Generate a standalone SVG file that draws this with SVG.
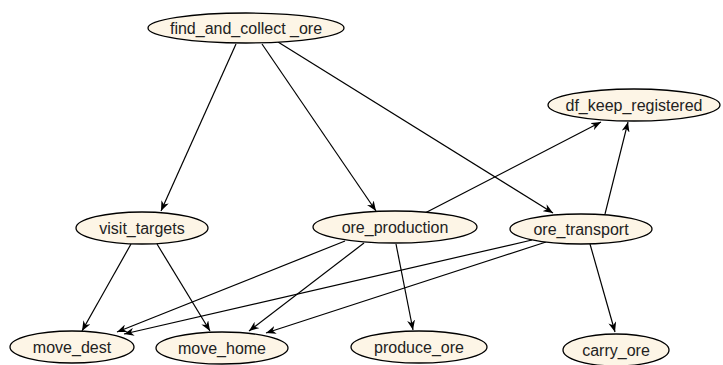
<svg xmlns="http://www.w3.org/2000/svg" width="723" height="365" viewBox="0 0 723 365">
  <defs>
    <marker id="arrow" viewBox="0 0 10 8" refX="10" refY="4" markerWidth="10" markerHeight="8" markerUnits="userSpaceOnUse" orient="auto">
      <path d="M0,0 L10,4 L0,8 L3,4 Z" fill="#000"/>
    </marker>
  </defs>
  <style>
    .node ellipse { fill: #fdf5e6; stroke: #000; stroke-width: 1.3; }
    .node text { font-family: "Liberation Sans", Arial, sans-serif; font-size: 16px; fill: #222; text-anchor: middle; dominant-baseline: central; }
    .edges line { stroke: #000; stroke-width: 1.2; marker-end: url(#arrow); }
  </style>
  <rect width="723" height="365" fill="#fff"/>

  <g class="edges">
    <line x1="236" y1="44" x2="161" y2="211"/>
    <line x1="262" y1="44" x2="376" y2="211"/>
    <line x1="278" y1="42" x2="553" y2="213"/>
    <line x1="425" y1="213" x2="601" y2="122"/>
    <line x1="605" y1="214" x2="628" y2="122"/>
    <line x1="131" y1="244" x2="82" y2="331"/>
    <line x1="157" y1="244" x2="210" y2="331"/>
    <line x1="345" y1="241" x2="117" y2="332"/>
    <line x1="364" y1="243" x2="249" y2="331"/>
    <line x1="396" y1="244" x2="413" y2="330"/>
    <line x1="532" y1="240" x2="124" y2="334"/>
    <line x1="546" y1="242" x2="266" y2="333"/>
    <line x1="590" y1="244" x2="615" y2="332"/>
  </g>

  <g id="find_and_collect_ore" class="node">
    <ellipse cx="246" cy="28" rx="98" ry="15"/>
    <text x="246" y="28">find_and_collect _ore</text>
  </g>
  <g id="df_keep_registered" class="node">
    <ellipse cx="634" cy="105" rx="86" ry="16"/>
    <text x="634" y="105">df_keep_registered</text>
  </g>
  <g id="visit_targets" class="node">
    <ellipse cx="142" cy="228" rx="66" ry="16"/>
    <text x="142" y="228">visit_targets</text>
  </g>
  <g id="ore_production" class="node">
    <ellipse cx="395" cy="227" rx="82" ry="16"/>
    <text x="395" y="227">ore_production</text>
  </g>
  <g id="ore_transport" class="node">
    <ellipse cx="581" cy="229" rx="71" ry="15"/>
    <text x="581" y="229">ore_transport</text>
  </g>
  <g id="move_dest" class="node">
    <ellipse cx="72" cy="347" rx="62" ry="16"/>
    <text x="72" y="347">move_dest</text>
  </g>
  <g id="move_home" class="node">
    <ellipse cx="222" cy="348" rx="66" ry="16"/>
    <text x="222" y="348">move_home</text>
  </g>
  <g id="produce_ore" class="node">
    <ellipse cx="419" cy="347" rx="68" ry="16"/>
    <text x="419" y="347">produce_ore</text>
  </g>
  <g id="carry_ore" class="node">
    <ellipse cx="616" cy="350" rx="53" ry="16"/>
    <text x="616" y="350">carry_ore</text>
  </g>
</svg>
